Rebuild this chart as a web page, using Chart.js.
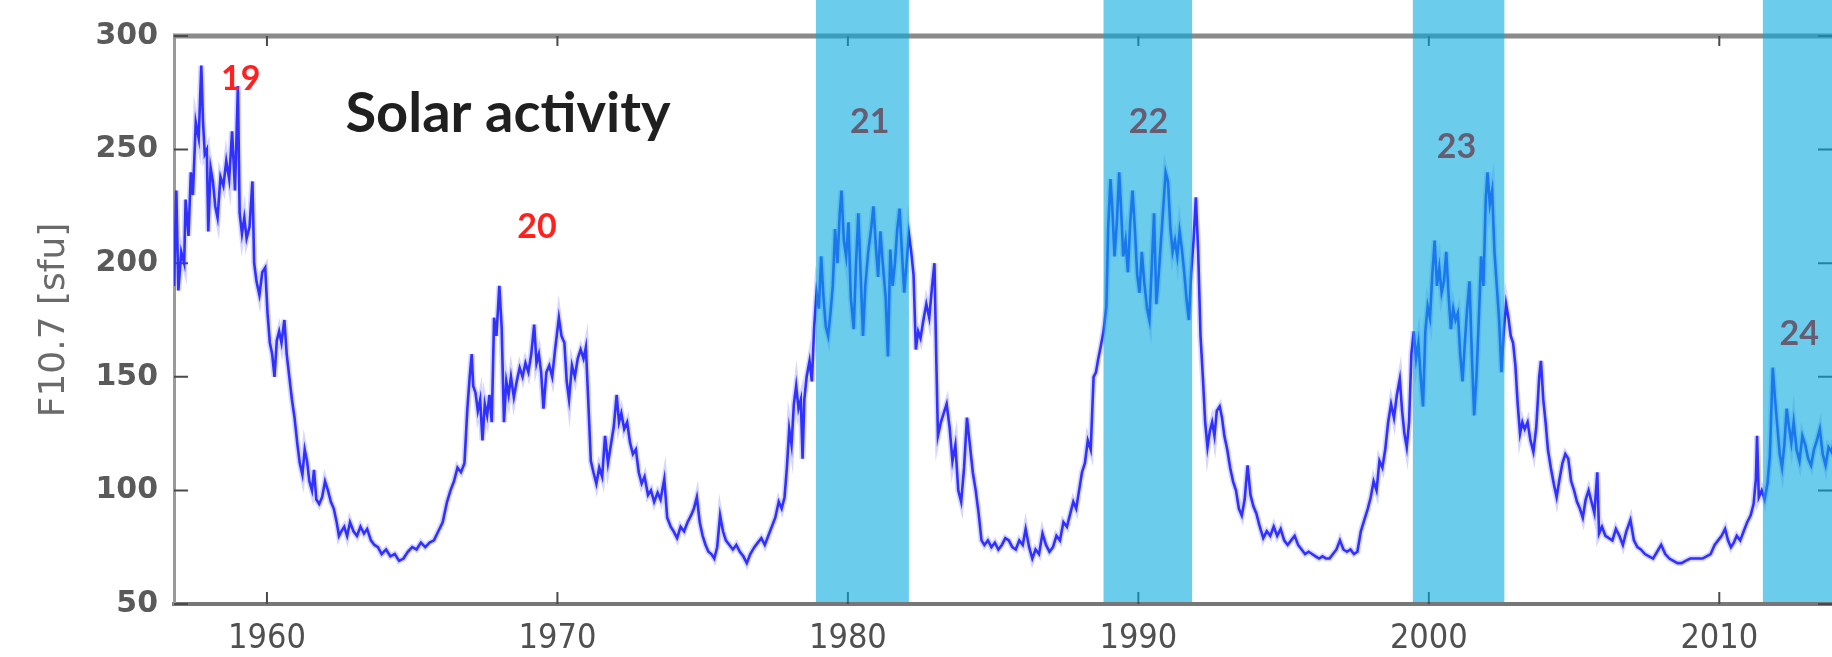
<!DOCTYPE html>
<html>
<head>
<meta charset="utf-8">
<title>Solar activity F10.7</title>
<script src="https://cdn.jsdelivr.net/npm/chart.js@4.4.1/dist/chart.umd.min.js"></script>
<style>
  html, body { margin: 0; padding: 0; background: #fff; }
  #wrap { width: 1832px; height: 657px; }
</style>
</head>
<body>
<div id="wrap"><canvas id="solarChart" width="1832" height="657"></canvas></div>
<script>
// Monthly-ish F10.7 values (decimal year / sfu)
const years = [
  1956.8, 1956.88, 1956.95, 1957.05, 1957.15, 1957.2, 1957.3, 1957.38, 1957.45, 1957.55, 1957.65, 1957.74, 1957.8, 1957.86, 1957.93, 1957.98,
  1958.06, 1958.14, 1958.22, 1958.3, 1958.4, 1958.5, 1958.6, 1958.7, 1958.8, 1958.9, 1959.0, 1959.06, 1959.14, 1959.22, 1959.3, 1959.4,
  1959.5, 1959.56, 1959.64, 1959.74, 1959.84, 1959.94, 1960.02, 1960.1, 1960.18, 1960.26, 1960.34, 1960.42, 1960.5, 1960.6, 1960.68, 1960.77,
  1960.86, 1960.95, 1961.05, 1961.13, 1961.22, 1961.3, 1961.38, 1961.46, 1961.55, 1961.62, 1961.7, 1961.8, 1961.9, 1962.0, 1962.1, 1962.2,
  1962.3, 1962.4, 1962.48, 1962.56, 1962.66, 1962.76, 1962.86, 1962.98, 1963.1, 1963.22, 1963.34, 1963.45, 1963.58, 1963.7, 1963.82, 1963.95,
  1964.1, 1964.25, 1964.4, 1964.55, 1964.7, 1964.85, 1965.0, 1965.15, 1965.3, 1965.45, 1965.6, 1965.75, 1965.9, 1966.05, 1966.2, 1966.32,
  1966.44, 1966.56, 1966.68, 1966.8, 1966.9, 1966.98, 1967.05, 1967.1, 1967.18, 1967.26, 1967.34, 1967.42, 1967.5, 1967.58, 1967.66, 1967.74,
  1967.82, 1967.9, 1968.0, 1968.08, 1968.16, 1968.24, 1968.32, 1968.4, 1968.5, 1968.6, 1968.7, 1968.8, 1968.9, 1969.0, 1969.1, 1969.2,
  1969.28, 1969.36, 1969.44, 1969.52, 1969.62, 1969.72, 1969.82, 1969.92, 1970.05, 1970.14, 1970.24, 1970.32, 1970.4, 1970.5, 1970.6, 1970.7,
  1970.8, 1970.9, 1970.98, 1971.06, 1971.15, 1971.24, 1971.34, 1971.44, 1971.54, 1971.64, 1971.74, 1971.84, 1971.94, 1972.04, 1972.12, 1972.2,
  1972.3, 1972.4, 1972.5, 1972.6, 1972.7, 1972.8, 1972.9, 1973.0, 1973.12, 1973.22, 1973.33, 1973.45, 1973.55, 1973.68, 1973.78, 1973.9,
  1974.0, 1974.12, 1974.24, 1974.36, 1974.48, 1974.6, 1974.7, 1974.8, 1974.9, 1975.0, 1975.1, 1975.2, 1975.3, 1975.4, 1975.5, 1975.6,
  1975.7, 1975.8, 1975.92, 1976.04, 1976.16, 1976.28, 1976.4, 1976.52, 1976.64, 1976.78, 1976.9, 1977.02, 1977.14, 1977.26, 1977.38, 1977.5,
  1977.62, 1977.72, 1977.82, 1977.9, 1977.98, 1978.06, 1978.14, 1978.22, 1978.3, 1978.38, 1978.44, 1978.5, 1978.58, 1978.68, 1978.76, 1978.84,
  1978.92, 1979.0, 1979.08, 1979.16, 1979.24, 1979.32, 1979.4, 1979.48, 1979.56, 1979.64, 1979.72, 1979.78, 1979.86, 1979.94, 1980.02, 1980.1,
  1980.2, 1980.28, 1980.36, 1980.44, 1980.52, 1980.6, 1980.7, 1980.8, 1980.88, 1980.96, 1981.04, 1981.12, 1981.2, 1981.3, 1981.38, 1981.46,
  1981.54, 1981.62, 1981.7, 1981.78, 1981.86, 1981.94, 1982.02, 1982.1, 1982.18, 1982.26, 1982.34, 1982.42, 1982.5, 1982.6, 1982.7, 1982.8,
  1982.9, 1982.98, 1983.04, 1983.1, 1983.2, 1983.3, 1983.4, 1983.5, 1983.6, 1983.7, 1983.8, 1983.9, 1984.0, 1984.1, 1984.2, 1984.3,
  1984.4, 1984.5, 1984.6, 1984.7, 1984.82, 1984.94, 1985.06, 1985.18, 1985.3, 1985.42, 1985.54, 1985.66, 1985.78, 1985.9, 1986.02, 1986.12,
  1986.24, 1986.35, 1986.46, 1986.58, 1986.7, 1986.82, 1986.94, 1987.06, 1987.18, 1987.3, 1987.42, 1987.54, 1987.66, 1987.76, 1987.86, 1987.96,
  1988.06, 1988.16, 1988.26, 1988.36, 1988.46, 1988.54, 1988.62, 1988.7, 1988.8, 1988.9, 1988.96, 1989.04, 1989.1, 1989.18, 1989.26, 1989.34,
  1989.4, 1989.48, 1989.56, 1989.64, 1989.72, 1989.8, 1989.88, 1989.96, 1990.04, 1990.12, 1990.2, 1990.3, 1990.38, 1990.46, 1990.54, 1990.62,
  1990.7, 1990.78, 1990.86, 1990.94, 1991.02, 1991.1, 1991.18, 1991.26, 1991.34, 1991.42, 1991.5, 1991.58, 1991.66, 1991.74, 1991.82, 1991.9,
  1991.98, 1992.06, 1992.14, 1992.22, 1992.3, 1992.38, 1992.46, 1992.54, 1992.62, 1992.7, 1992.8, 1992.88, 1992.96, 1993.06, 1993.16, 1993.26,
  1993.36, 1993.46, 1993.56, 1993.66, 1993.76, 1993.86, 1993.96, 1994.06, 1994.18, 1994.3, 1994.42, 1994.54, 1994.66, 1994.78, 1994.9, 1995.02,
  1995.14, 1995.26, 1995.38, 1995.5, 1995.62, 1995.74, 1995.86, 1995.98, 1996.1, 1996.22, 1996.34, 1996.46, 1996.58, 1996.7, 1996.82, 1996.94,
  1997.06, 1997.18, 1997.3, 1997.42, 1997.54, 1997.66, 1997.78, 1997.9, 1998.0, 1998.1, 1998.2, 1998.3, 1998.4, 1998.5, 1998.6, 1998.7,
  1998.8, 1998.9, 1999.0, 1999.08, 1999.16, 1999.24, 1999.32, 1999.4, 1999.48, 1999.56, 1999.64, 1999.72, 1999.8, 1999.88, 1999.96, 2000.04,
  2000.12, 2000.2, 2000.28, 2000.36, 2000.44, 2000.52, 2000.6, 2000.68, 2000.76, 2000.84, 2000.92, 2001.0, 2001.08, 2001.16, 2001.24, 2001.32,
  2001.4, 2001.48, 2001.56, 2001.64, 2001.72, 2001.8, 2001.88, 2001.96, 2002.02, 2002.1, 2002.18, 2002.26, 2002.34, 2002.42, 2002.5, 2002.58,
  2002.66, 2002.74, 2002.82, 2002.9, 2002.98, 2003.06, 2003.14, 2003.22, 2003.3, 2003.4, 2003.5, 2003.6, 2003.7, 2003.8, 2003.86, 2003.94,
  2004.02, 2004.1, 2004.2, 2004.3, 2004.4, 2004.5, 2004.6, 2004.7, 2004.8, 2004.9, 2005.0, 2005.1, 2005.2, 2005.3, 2005.4, 2005.5,
  2005.6, 2005.7, 2005.8, 2005.86, 2005.96, 2006.08, 2006.2, 2006.32, 2006.44, 2006.56, 2006.68, 2006.8, 2006.94, 2007.06, 2007.18, 2007.3,
  2007.44, 2007.58, 2007.72, 2007.86, 2008.0, 2008.14, 2008.28, 2008.42, 2008.56, 2008.7, 2008.84, 2009.0, 2009.14, 2009.28, 2009.42, 2009.56,
  2009.7, 2009.84, 2009.96, 2010.08, 2010.2, 2010.3, 2010.4, 2010.5, 2010.6, 2010.72, 2010.84, 2010.96, 2011.08, 2011.18, 2011.26, 2011.3,
  2011.36, 2011.46, 2011.56, 2011.66, 2011.74, 2011.84, 2011.92, 2012.0, 2012.08, 2012.16, 2012.24, 2012.32, 2012.4, 2012.48, 2012.56, 2012.66,
  2012.76, 2012.86, 2012.96, 2013.06, 2013.16, 2013.26, 2013.36, 2013.46, 2013.56, 2013.66, 2013.76, 2013.86, 2013.96
];
const f107 = [
  190, 232, 188, 205, 200, 228, 212, 240, 230, 262, 255, 287, 262, 248, 250, 214,
  242, 236, 225, 220, 238, 234, 245, 237, 258, 232, 278, 222, 213, 220, 211, 216,
  236, 200, 192, 186, 196, 198, 178, 165, 160, 150, 166, 170, 165, 175, 160, 150,
  140, 132, 120, 112, 107, 118, 113, 104, 100, 109, 96, 94, 97, 104, 100, 95,
  92, 86, 80, 82, 84, 80, 86, 82, 80, 84, 81, 83, 78, 76, 75, 72,
  74, 71, 72, 69, 70, 73, 75, 74, 77, 75, 77, 78, 82, 86, 95, 100,
  104, 110, 108, 112, 136, 150, 160, 146, 143, 135, 140, 122, 138, 133, 142, 130,
  176, 168, 190, 172, 130, 148, 142, 150, 141, 148, 154, 150, 156, 152, 160, 173,
  156, 160, 152, 136, 152, 155, 150, 162, 176, 168, 165, 148, 140, 155, 150, 158,
  162, 158, 163, 140, 113, 108, 103, 110, 106, 124, 112, 120, 128, 142, 130, 134,
  127, 130, 121, 116, 118, 108, 103, 106, 98, 100, 95, 99, 96, 105, 88, 84,
  82, 79, 84, 82, 86, 89, 92, 97, 86, 80, 76, 73, 72, 70, 75, 89,
  82, 78, 76, 74, 76, 73, 71, 68, 72, 75, 77, 79, 76, 80, 84, 88,
  95, 92, 97, 110, 127, 120, 138, 146, 136, 140, 114, 140, 150, 157, 148, 172,
  187, 180, 203, 185, 172, 168, 178, 190, 215, 200, 222, 232, 210, 203, 218, 185,
  171, 200, 222, 195, 168, 190, 205, 215, 225, 208, 194, 214, 200, 185, 159, 206,
  190, 200, 215, 224, 205, 187, 200, 213, 205, 195, 162, 170, 167, 175, 182, 176,
  190, 200, 160, 124, 130, 134, 138, 128, 113, 120, 100, 95, 110, 132, 120, 108,
  100, 90, 78, 76, 78, 75, 77, 74, 76, 79, 78, 75, 74, 78, 76, 83,
  75, 70, 74, 72, 81, 76, 73, 75, 80, 78, 86, 84, 90, 95, 92, 100,
  108, 112, 122, 118, 150, 152, 158, 163, 170, 181, 215, 237, 225, 203, 218, 240,
  225, 203, 210, 196, 218, 232, 215, 195, 187, 205, 192, 180, 175, 198, 222, 182,
  195, 210, 225, 240, 236, 216, 205, 210, 203, 214, 206, 196, 184, 175, 196, 210,
  229, 205, 168, 150, 130, 119, 126, 130, 124, 135, 137, 132, 124, 118, 110, 104,
  100, 92, 89, 96, 111, 98, 93, 90, 84, 79, 82, 80, 84, 80, 83, 78,
  76, 78, 80, 76, 74, 72, 73, 72, 71, 70, 71, 70, 70, 72, 74, 78,
  74, 73, 74, 72, 73, 82, 87, 92, 97, 104, 100, 113, 110, 118, 130, 138,
  132, 142, 149, 135, 125, 119, 130, 160, 170, 158, 165, 150, 137, 170, 181, 176,
  195, 210, 190, 198, 187, 192, 205, 186, 171, 180, 175, 178, 160, 148, 165, 180,
  192, 160, 133, 150, 175, 203, 190, 228, 240, 226, 232, 205, 190, 175, 152, 170,
  182, 176, 168, 165, 155, 138, 125, 130, 127, 130, 122, 117, 128, 150, 157, 140,
  130, 118, 110, 103, 97, 105, 112, 116, 114, 104, 100, 95, 92, 88, 96, 100,
  95, 90, 108, 81, 84, 80, 79, 78, 83, 80, 76, 82, 87, 78, 75, 74,
  72, 71, 70, 73, 76, 72, 70, 69, 68, 68, 69, 70, 70, 70, 70, 71,
  72, 76, 78, 80, 83, 78, 75, 77, 80, 78, 82, 86, 89, 94, 105, 124,
  97, 100, 96, 103, 115, 154, 140, 128, 116, 110, 120, 136, 128, 121, 130, 118,
  113, 124, 120, 114, 111, 118, 122, 127, 116, 111, 119, 117, 122
];

// solar-maximum periods (shaded) and cycle numbers
const maxStart = [1978.9, 1988.8, 1999.45, 2011.5];
const maxEnd = [1982.1, 1991.85, 2002.6, 2016.0];
const cycleNames = ["19", "20", "21", "22", "23", "24"];
const cycleYear = [1959.1, 1969.3, 1980.75, 1990.35, 2000.95, 2012.75];
const cycleF107 = [281, 216, 262, 262, 251, 169];

const yTicks = [50, 100, 150, 200, 250, 300];
const xTicks = [1960, 1970, 1980, 1990, 2000, 2010];

const points = years.map((yr, i) => ({ x: yr, y: f107[i] }));

// frame: top border + inward tick marks (drawn under the shading)
const framePlugin = {
  id: "frame",
  beforeDatasetsDraw(chart) {
    const { ctx, chartArea, scales } = chart;
    const x = scales.x, y = scales.y;
    ctx.save();
    ctx.strokeStyle = "#8a8a8a";
    ctx.lineWidth = 5;
    ctx.beginPath();
    ctx.moveTo(chartArea.left - 1, chartArea.top);
    ctx.lineTo(chartArea.right, chartArea.top);
    ctx.stroke();

    ctx.strokeStyle = "#4a4a4a";
    ctx.lineWidth = 2;
    ctx.beginPath();
    xTicks.forEach((t) => {
      const px = x.getPixelForValue(t);
      ctx.moveTo(px, chartArea.bottom);
      ctx.lineTo(px, chartArea.bottom - 12);
      ctx.moveTo(px, chartArea.top);
      ctx.lineTo(px, chartArea.top + 10);
    });
    yTicks.forEach((t) => {
      const py = y.getPixelForValue(t);
      ctx.moveTo(chartArea.left, py);
      ctx.lineTo(chartArea.left + 14, py);
      ctx.moveTo(chartArea.right, py);
      ctx.lineTo(chartArea.right - 14, py);
    });
    ctx.stroke();
    ctx.restore();
  },
};

// shaded solar maxima, drawn over the line so it shows through
const bandPlugin = {
  id: "bands",
  afterDatasetsDraw(chart) {
    const { ctx, chartArea, scales } = chart;
    ctx.save();
    ctx.fillStyle = "rgba(10, 170, 223, 0.6)";
    maxStart.forEach((s, i) => {
      const x0 = scales.x.getPixelForValue(s);
      const x1 = Math.min(scales.x.getPixelForValue(maxEnd[i]), chart.width);
      ctx.fillRect(x0, 0, x1 - x0, chartArea.bottom - 2);
    });
    ctx.restore();
  },
};

const labelPlugin = {
  id: "labels",
  afterDraw(chart) {
    const { ctx, scales } = chart;
    ctx.save();
    ctx.textAlign = "center";
    ctx.textBaseline = "middle";
    ctx.font = "bold 34px Lato";
    cycleNames.forEach((name, i) => {
      ctx.fillStyle = i < 2 ? "#ff2020" : "#675d72";
      ctx.fillText(name, scales.x.getPixelForValue(cycleYear[i]), scales.y.getPixelForValue(cycleF107[i]));
    });
    ctx.font = "bold 56px Lato";
    ctx.fillStyle = "#1f1f1f";
    ctx.fillText("Solar activity", scales.x.getPixelForValue(1968.3), scales.y.getPixelForValue(265.5));
    ctx.restore();
  },
};

new Chart(document.getElementById("solarChart"), {
  type: "line",
  data: {
    datasets: [
      {
        label: "F10.7",
        data: points,
        borderColor: "#3030ff",
        borderWidth: 2.6,
        pointRadius: 0,
        tension: 0,
        fill: false,
      },
      {
        label: "halo",
        data: points,
        borderColor: "rgba(70, 70, 255, 0.22)",
        borderWidth: 6,
        pointRadius: 0,
        tension: 0,
        fill: false,
      },
    ],
  },
  options: {
    responsive: false,
    animation: false,
    layout: { padding: { top: 36, right: 0, bottom: 0, left: 0 } },
    plugins: { legend: { display: false }, tooltip: { enabled: false } },
    scales: {
      x: {
        type: "linear",
        min: 1956.8,
        max: 2013.88,
        afterFit: (scale) => { scale.height = 53; },
        afterBuildTicks: (scale) => { scale.ticks = xTicks.map((v) => ({ value: v })); },
        grid: { display: false, drawTicks: false },
        border: { display: true, color: "#777777", width: 4 },
        ticks: {
          padding: 15,
          color: "#505050",
          font: { family: "'DejaVu Sans Condensed', 'DejaVu Sans'", size: 34 },
          callback: (v) => String(v),
        },
      },
      y: {
        min: 50,
        max: 300,
        afterFit: (scale) => { scale.width = 174; },
        afterBuildTicks: (scale) => { scale.ticks = yTicks.map((v) => ({ value: v })); },
        grid: { display: false, drawTicks: false },
        border: { display: true, color: "#9a9a9a", width: 3 },
        title: {
          display: true,
          text: "F10.7 [sfu]",
          color: "#6a6a6a",
          font: { family: "DejaVu Sans", size: 36 },
          padding: { top: 33, bottom: 0 },
        },
        ticks: {
          padding: 16,
          color: "#5a5a5a",
          font: { family: "DejaVu Sans", size: 30, weight: "bold" },
        },
      },
    },
  },
  plugins: [framePlugin, bandPlugin, labelPlugin],
});
</script>
</body>
</html>
